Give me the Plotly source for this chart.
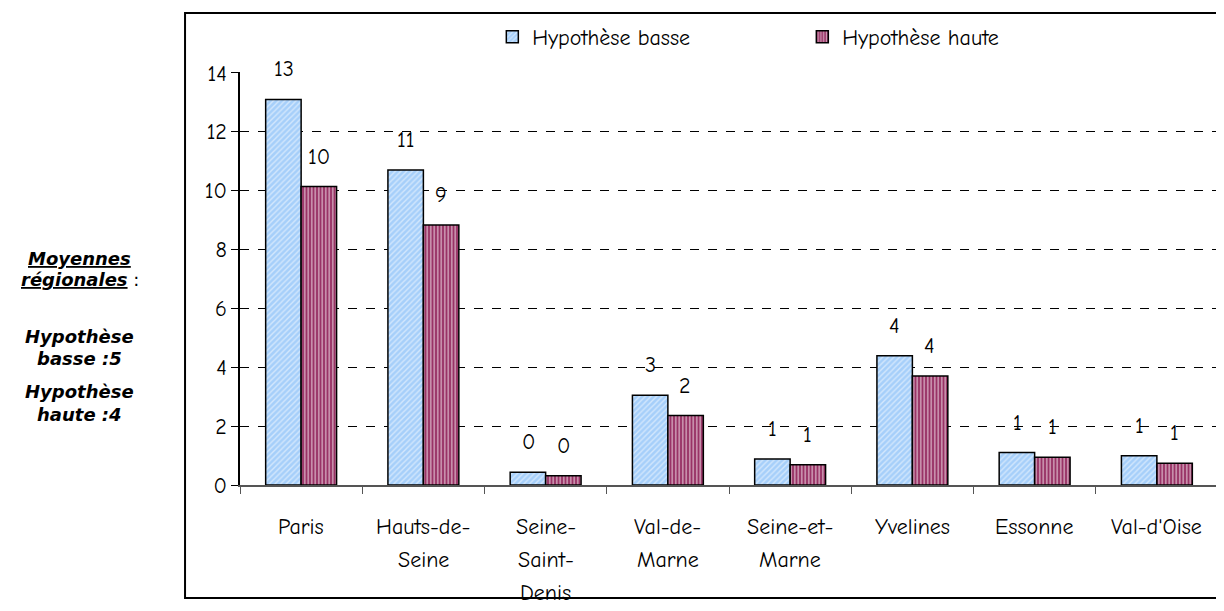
import plotly.graph_objects as go

# Départements d'Île-de-France
departements = ["Paris", "Hauts-de-Seine", "Seine-Saint-Denis", "Val-de-Marne",
                "Seine-et-Marne", "Yvelines", "Essonne", "Val-d'Oise"]
# libellés tels que coupés sur l'axe
libelles = [["Paris"], ["Hauts-de-", "Seine"], ["Seine-", "Saint-", "Denis"],
            ["Val-de-", "Marne"], ["Seine-et-", "Marne"], ["Yvelines"],
            ["Essonne"], ["Val-d'Oise"]]

hyp_basse = [13.1, 10.7, 0.43, 3.05, 0.88, 4.39, 1.1, 0.99]
hyp_haute = [10.14, 8.83, 0.31, 2.36, 0.69, 3.7, 0.94, 0.74]

# texte à gauche (moyennes régionales)
texte_gauche = ["<b><i><u>Moyennes</u></i></b>", "<b><i><u>régionales</u></i></b> :",
                "<b><i>Hypothèse</i></b>", "<b><i>basse :5</i></b>",
                "<b><i>Hypothèse</i></b>", "<b><i>haute :4</i></b>"]
y_gauche = [0.5496, 0.4964, 0.3584, 0.3075, 0.2252, 0.1719]

FONT = "Comic Sans MS, Comic Neue, Noto Sans, DejaVu Sans"

fig = go.Figure()
fig.add_trace(go.Bar(
    x=departements, y=hyp_basse, name="Hypothèse basse",
    marker=dict(color="#A6CFFA", line=dict(color="black", width=1.5),
                pattern=dict(shape="/", fgcolor="white", size=4, solidity=0.35)),
))
fig.add_trace(go.Bar(
    x=departements, y=hyp_haute, name="Hypothèse haute",
    marker=dict(color="#993366", line=dict(color="black", width=1.5),
                pattern=dict(shape="|", fgcolor="white", size=3.5, solidity=0.45)),
))

# étiquettes de valeur (arrondies), décalées au-dessus des barres
for d, b, h in zip(departements, hyp_basse, hyp_haute):
    fig.add_annotation(x=d, y=b, text=f"{round(b)}", showarrow=False,
                       xshift=-17.5, yshift=30, font=dict(size=22, family=FONT, color="black"))
    fig.add_annotation(x=d, y=h, text=f"{round(h)}", showarrow=False,
                       xshift=17.5, yshift=30, font=dict(size=22, family=FONT, color="black"))

# libellés de l'axe des x, ligne par ligne
for d, lignes in zip(departements, libelles):
    for i, l in enumerate(lignes):
        fig.add_annotation(x=d, y=0, yref="y", text=l, showarrow=False,
                           yshift=-42 - 33 * i, font=dict(size=22, family=FONT, color="black"))

for t, yy in zip(texte_gauche, y_gauche):
    fig.add_annotation(xref="paper", yref="paper", x=-0.1636, y=yy, text=t,
                       showarrow=False, xanchor="center", yanchor="middle",
                       font=dict(size=18, family="DejaVu Sans", color="black"))

# cadre extérieur
fig.add_shape(type="rect", xref="paper", yref="paper",
              x0=-0.0562, x1=1.01, y0=-0.2736, y1=1.1429,
              line=dict(color="black", width=2), fillcolor="rgba(0,0,0,0)")

# la page ajoute 8 px de marge autour de la figure
fig.update_layout(
    width=1216, height=603,
    margin=dict(l=232, r=6, t=64, b=126),
    paper_bgcolor="white", plot_bgcolor="white",
    barmode="group", bargap=0.42, bargroupgap=0,
    font=dict(family=FONT, size=21, color="black"),
    legend=dict(orientation="h", x=0.258, y=1.085, xanchor="left", yanchor="middle",
                entrywidth=265, entrywidthmode="pixels",
                font=dict(size=22, family=FONT), bgcolor="rgba(0,0,0,0)"),
    showlegend=True,
)
fig.update_xaxes(showticklabels=False, ticks="outside", tickson="boundaries",
                 ticklen=7, tickcolor="#555555", showline=True, linecolor="#555555",
                 linewidth=1.5, showgrid=False)
fig.update_yaxes(range=[0, 14.03], tickvals=[0, 2, 4, 6, 8, 10, 12, 14], showgrid=True,
                 gridcolor="black", griddash="dash", gridwidth=1, zeroline=False,
                 showline=True, linecolor="black", linewidth=1.5, ticks="outside",
                 ticklen=7, tickcolor="black", tickfont=dict(size=22, family=FONT))

fig.write_html("out.html")
